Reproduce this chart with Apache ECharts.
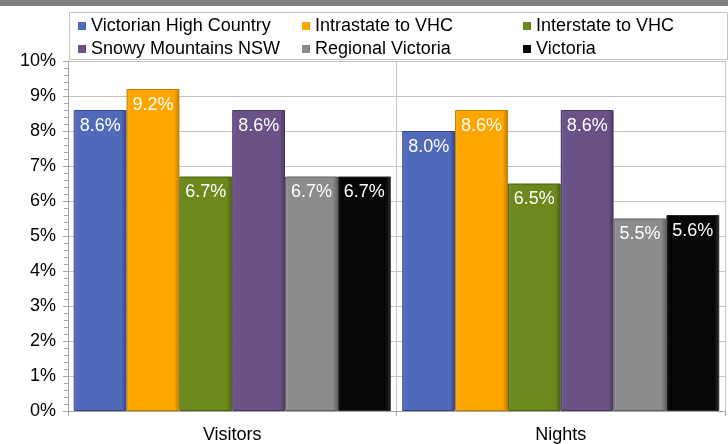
<!DOCTYPE html>
<html>
<head>
<meta charset="utf-8">
<script src="https://cdn.jsdelivr.net/npm/echarts@6/dist/echarts.min.js"></script>
<style>
  html, body { margin: 0; padding: 0; background: #fff; }
  #chart { width: 728px; height: 444px; }
</style>
</head>
<body>
<div id="chart"></div>
<script>
const categories = ['Visitors', 'Nights'];
const seriesNames = ['Victorian High Country', 'Intrastate to VHC', 'Interstate to VHC',
  'Snowy Mountains NSW', 'Regional Victoria', 'Victoria'];
const victorianHighCountry = [8.6, 8.0];
const intrastateToVHC = [9.2, 8.6];
const interstateToVHC = [6.7, 6.5];
const snowyMountainsNSW = [8.6, 8.6];
const regionalVictoria = [6.7, 5.5];
const victoria = [6.7, 5.6];
const yTicks = [0, 1, 2, 3, 4, 5, 6, 7, 8, 9, 10];

const seriesData = [victorianHighCountry, intrastateToVHC, interstateToVHC,
  snowyMountainsNSW, regionalVictoria, victoria];
const colors = ['#5069b9', '#ffa500', '#6b891d', '#6a5287', '#8c8c8c', '#060606'];
const edges = ['#34478a', '#c07c00', '#4a5f12', '#47365e', '#606060', '#2a2a2a'];
const lights = ['#6a82cc', '#ffb82e', '#80a02c', '#7e669c', '#a0a0a0', '#1c1c1c'];

const FONT = "'Liberation Sans', Arial, sans-serif";

const chart = echarts.init(document.getElementById('chart'), null, { renderer: 'canvas' });

// bar face: light left edge, flat middle, dark right edge
const barFill = (i) => new echarts.graphic.LinearGradient(0, 0, 1, 0, [
  { offset: 0, color: lights[i] },
  { offset: 0.06, color: colors[i] },
  { offset: 0.9, color: colors[i] },
  { offset: 1, color: edges[i] }
]);

const series = seriesNames.map((name, i) => ({
  name: name,
  type: 'bar',
  data: seriesData[i],
  barGap: '0%',
  barCategoryGap: '3.5%',
  itemStyle: {
    color: barFill(i),
    borderColor: edges[i],
    borderWidth: 1
  },
  label: {
    show: true,
    position: 'insideTop',
    distance: 7,
    color: '#fff',
    fontFamily: FONT,
    fontSize: 18,
    formatter: (p) => p.value.toFixed(1) + '%'
  }
}));

const legendCol = (left, names) => ({
  orient: 'vertical',
  left: left,
  top: 12,
  itemWidth: 8,
  itemHeight: 8,
  itemGap: 5,
  icon: 'rect',
  itemStyle: { borderWidth: 0 },
  textStyle: { fontFamily: FONT, fontSize: 18, color: '#000', padding: [0, 0, 0, 0] },
  data: names
});

const option = {
  animation: false,
  color: colors,
  grid: { left: 68, right: 3, top: 61, bottom: 33 },
  legend: [
    legendCol(73, [seriesNames[0], seriesNames[3]]),
    legendCol(297, [seriesNames[1], seriesNames[4]]),
    legendCol(518, [seriesNames[2], seriesNames[5]])
  ],
  graphic: [
    { type: 'rect', left: 0, top: 0, shape: { width: 728, height: 6 }, style: { fill: '#808080' } },
    { type: 'rect', left: 67, top: 10, shape: { width: 658, height: 47 },
      style: { fill: 'none', stroke: '#c4c4c4', lineWidth: 1 } }
  ],
  xAxis: {
    type: 'category',
    data: categories,
    axisLine: { lineStyle: { color: '#a6a6a6' } },
    axisTick: { show: true, length: 5, lineStyle: { color: '#a6a6a6' } },
    splitLine: { show: true, lineStyle: { color: '#c4c4c4' } },
    axisLabel: { margin: 15, color: '#000', fontFamily: FONT, fontSize: 18 }
  },
  yAxis: {
    type: 'value',
    min: yTicks[0],
    max: yTicks[yTicks.length - 1],
    interval: 1,
    axisLine: { show: true, lineStyle: { color: '#a6a6a6' } },
    axisTick: { show: true, length: 5, lineStyle: { color: '#a6a6a6' } },
    minorTick: { show: true, splitNumber: 5, length: 4, lineStyle: { color: '#a6a6a6' } },
    splitLine: { show: true, lineStyle: { color: '#c4c4c4' } },
    axisLabel: { margin: 12, color: '#000', fontFamily: FONT, fontSize: 18,
      formatter: (v) => v + '%' }
  },
  series: series
};

chart.setOption(option);
</script>
</body>
</html>
